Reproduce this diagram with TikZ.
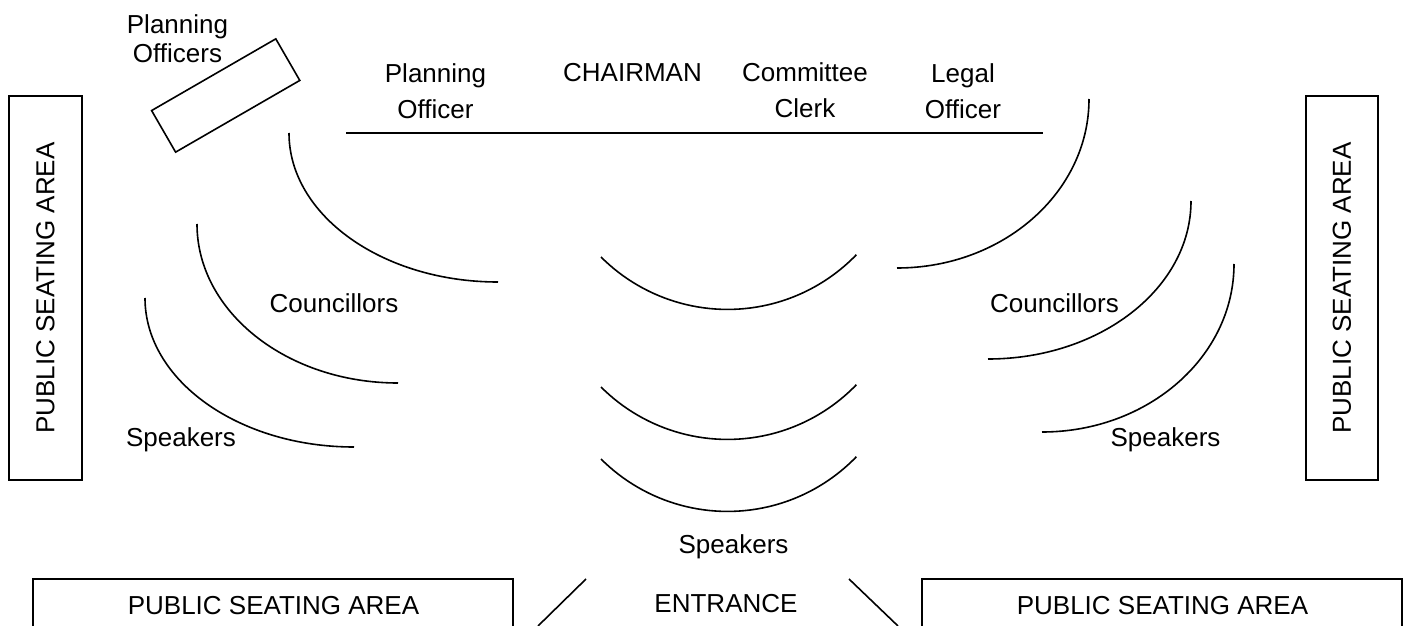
\documentclass[tikz,border=0pt]{standalone}
\usepackage{fontspec}
\setmainfont{Liberation Sans}
\usepackage{tikz}
\tikzstyle{area} = [draw, rectangle, line width=0.8pt, inner sep=0pt]
\tikzstyle{txt} = [font=\fontsize{13}{18.3}\selectfont, align=center, inner sep=0pt, anchor=base]
\tikzstyle{row} = [line width=0.8pt]

\begin{document}
\begin{tikzpicture}[x=0.5pt, y=-0.5pt]
	\useasboundingbox (0,0) rectangle (1405,626);
	\node (pubL) [area, rotate=90, minimum width=192pt, minimum height=36.5pt, font=\fontsize{13}{15}\selectfont] at (45.5,288) {PUBLIC SEATING AREA};
	\node (pubR) [area, rotate=90, minimum width=192pt, minimum height=36pt, font=\fontsize{13}{15}\selectfont] at (1342,288) {PUBLIC SEATING AREA};
	\node (desk) [area, rotate=30, minimum width=71.7pt, minimum height=24pt] at (225.7,95.5) {};
	\node (po) [txt, font=\fontsize{13}{14.7}\selectfont] at (177.5,63) {Planning\\Officers};
	\node (plan) [txt] at (435.5,119) {Planning\\Officer};
	\node (chair) [txt] at (632.5,82) {CHAIRMAN};
	\node (clerk) [txt] at (805,118) {Committee\\Clerk};
	\node (legal) [txt] at (963,119) {Legal\\Officer};
	\node (counL) [txt] at (334,313) {Councillors};
	\node (counR) [txt] at (1054.5,313) {Councillors};
	\node (speakL) [txt] at (181,446) {Speakers};
	\node (speakR) [txt] at (1165.5,446) {Speakers};
	\node (speakC) [txt] at (733.5,553) {Speakers};
	\node (entr) [txt] at (726,612) {ENTRANCE};
	\node (pubBL) [txt] at (273.5,614) {PUBLIC SEATING AREA};
	\node (pubBR) [txt] at (1162.5,614) {PUBLIC SEATING AREA};
	\draw [row] (346,133) -- (1043,133);
	\draw [row] (289,133) arc[start angle=180, end angle=90, x radius=209, y radius=149];
	\draw [row] (197,224) arc[start angle=180, end angle=90, x radius=201, y radius=159];
	\draw [row] (145,298) arc[start angle=180, end angle=90, x radius=209, y radius=149];
	\draw [row] (1089,99) arc[start angle=0, end angle=90, x radius=192, y radius=169];
	\draw [row] (1191,201) arc[start angle=0, end angle=90, x radius=203, y radius=158];
	\draw [row] (1234,264) arc[start angle=0, end angle=90, x radius=192, y radius=168];
	\draw [row] (601,257) arc[start angle=135, end angle=44, radius=179];
	\draw [row] (601,387) arc[start angle=135, end angle=44, radius=179];
	\draw [row] (601,459) arc[start angle=135, end angle=44, radius=179];
	\draw [row] (33,626) -- (33,579) -- (513,579) -- (513,626);
	\draw [row] (922,626) -- (922,579) -- (1402,579) -- (1402,626);
	\draw [row] (586,579) -- (538,626);
	\draw [row] (849,579) -- (898,626);
\end{tikzpicture}
\end{document}
